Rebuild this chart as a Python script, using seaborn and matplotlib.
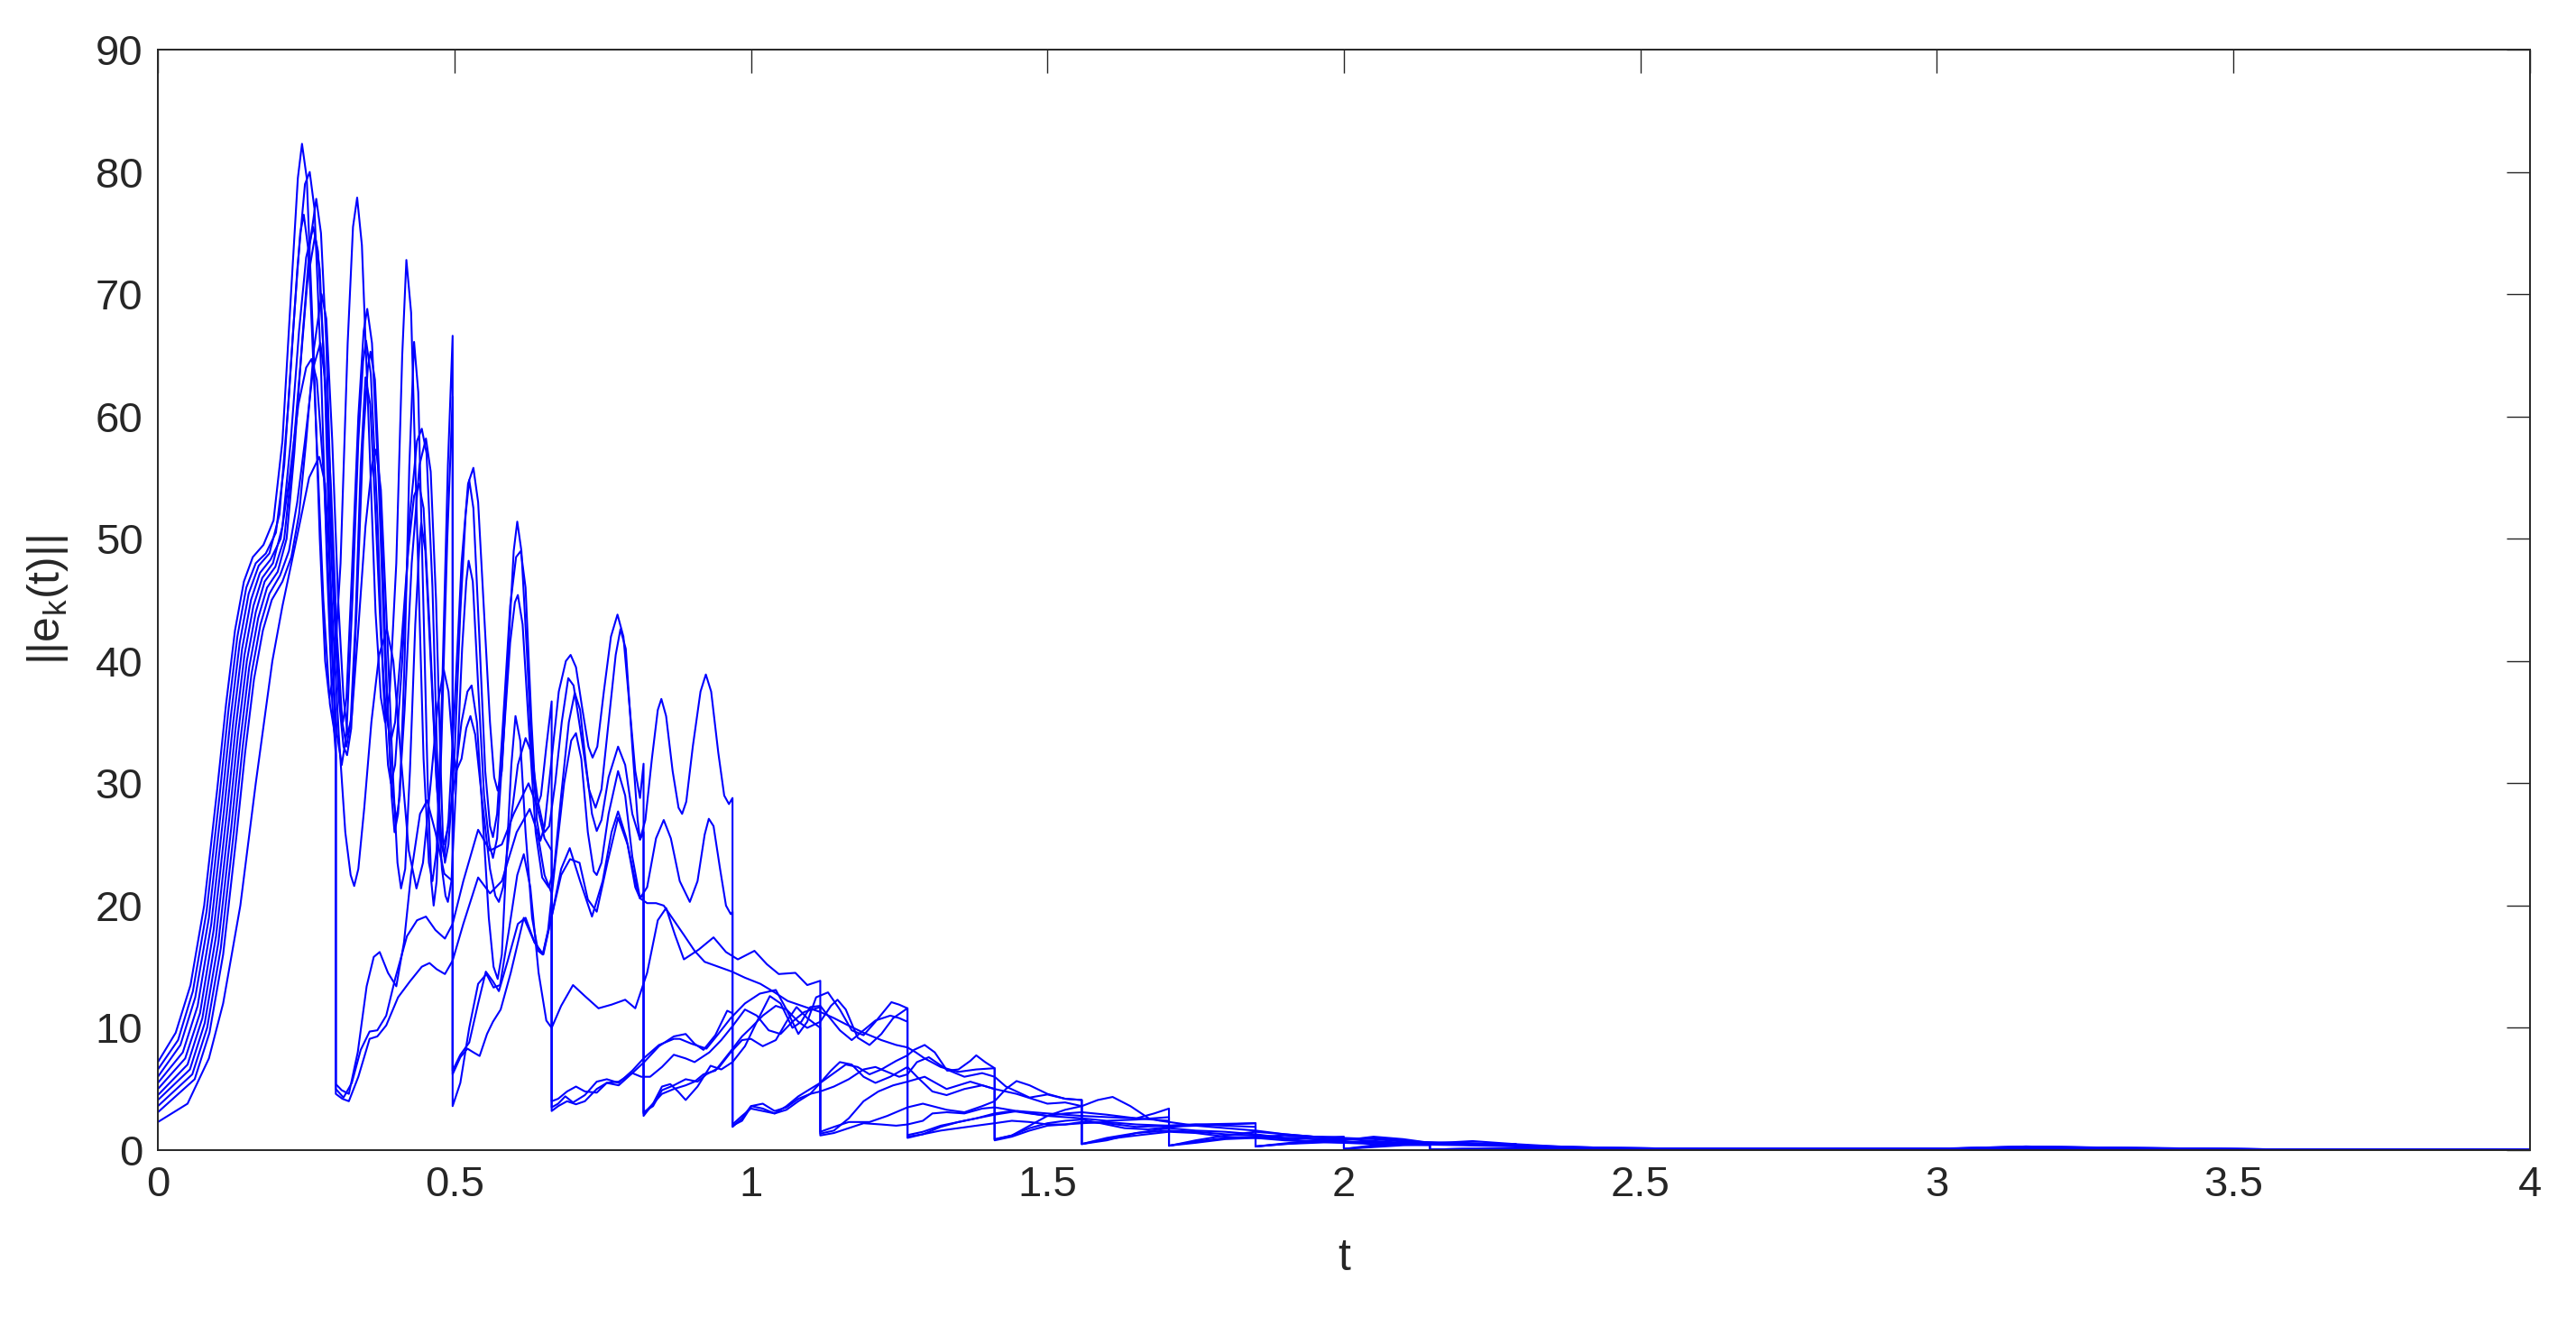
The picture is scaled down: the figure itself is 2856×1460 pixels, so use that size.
#!/usr/bin/env python3
"""
Norma del error ||e_k(t)|| para las 10 trayectorias con reinicios periódicos.
Valores leídos a ojo de la figura original (picos, valles y puntos intermedios).
"""

import matplotlib
matplotlib.use("Agg")  # sin pantalla
import matplotlib.pyplot as plt
import seaborn as sns
import pandas as pd

# ── Datos: (t, ||e_k(t)||) por trayectoria ─────────────────────────────────
traj_01 = [
    (0.000, 7.2), (0.030, 9.6), (0.055, 13.5), (0.078, 20.0), (0.100, 29.5), (0.115, 36.5), (0.130, 42.5),
    (0.145, 46.5), (0.160, 48.5), (0.178, 49.5), (0.195, 51.5),
    (0.210, 58.0), (0.225, 70.5), (0.236, 79.5), (0.243, 82.3), (0.251, 79.5), (0.262, 66.0), (0.273, 50.0),
    (0.282, 40.0), (0.289, 37.0),
    (0.297, 39.0), (0.308, 48.0), (0.320, 66.0), (0.329, 75.5), (0.336, 77.9), (0.344, 74.0), (0.355, 60.0),
    (0.367, 44.0), (0.376, 37.0), (0.383, 35.0),
    (0.391, 37.5), (0.402, 48.0), (0.412, 65.0), (0.419, 72.8), (0.427, 68.5), (0.437, 51.0), (0.448, 32.0),
    (0.457, 23.5), (0.463, 22.0),
    (0.470, 24.5), (0.479, 37.0), (0.489, 56.0), (0.497, 66.6),
    (0.497, 3.6), (0.510, 5.5), (0.525, 10.0), (0.540, 13.6), (0.554, 14.4), (0.566, 13.3), (0.577, 13.5),
    (0.592, 18.0), (0.606, 22.5), (0.617, 24.2), (0.628, 21.5), (0.642, 14.5), (0.655, 10.6), (0.664, 10.0),
    (0.680, 11.8), (0.700, 13.5), (0.720, 12.6), (0.743, 11.6), (0.765, 11.9), (0.788, 12.3), (0.805, 11.6),
    (0.825, 14.5), (0.843, 18.8), (0.857, 19.8), (0.872, 17.6), (0.887, 15.6), (0.912, 16.4), (0.937, 17.4),
    (0.958, 16.2),
    (0.978, 15.6), (1.006, 16.3), (1.027, 15.2), (1.047, 14.4), (1.075, 14.5), (1.095, 13.5), (1.117, 13.85),
    (1.117, 1.35), (1.140, 1.6), (1.165, 2.6), (1.190, 4.0), (1.215, 4.8), (1.240, 5.3), (1.264, 5.6),
    (1.293, 6.0), (1.330, 5.0), (1.370, 5.6), (1.411, 5.0), (1.448, 4.6), (1.500, 3.8), (1.530, 3.9), (1.558, 3.6),
    (1.558, 0.5), (1.600, 0.8), (1.650, 1.4), (1.705, 1.8), (1.750, 1.6), (1.800, 1.5), (1.851, 1.3),
    (1.900, 1.0), (1.950, 0.9), (2.000, 0.85),
    (2.000, 0.1), (2.050, 0.25), (2.100, 0.4), (2.145, 0.45), (2.200, 0.4), (2.290, 0.3), (2.360, 0.2),
    (2.435, 0.15), (2.600, 0.1), (2.800, 0.08), (3.000, 0.1), (3.150, 0.25), (3.300, 0.15), (3.600, 0.05),
    (4.000, 0.02),
]

traj_02 = [
    (0.000, 6.6), (0.034, 9.0), (0.059, 13.0), (0.082, 19.5), (0.104, 29.0), (0.119, 36.0), (0.134, 42.0),
    (0.149, 46.0), (0.165, 48.0), (0.182, 48.8), (0.199, 50.5),
    (0.213, 56.0), (0.228, 67.0), (0.240, 75.0), (0.246, 76.5), (0.254, 73.5), (0.266, 60.0), (0.279, 45.0),
    (0.290, 36.5), (0.300, 33.5),
    (0.300, 5.4), (0.310, 4.9), (0.322, 4.6), (0.337, 8.0), (0.352, 13.4), (0.364, 15.8), (0.374, 16.2),
    (0.388, 14.5), (0.402, 13.4), (0.415, 17.0), (0.427, 22.6), (0.442, 27.5), (0.454, 28.6), (0.468, 26.0),
    (0.483, 22.6), (0.497, 22.0),
    (0.497, 6.5), (0.510, 7.8), (0.525, 8.8), (0.540, 12.0), (0.553, 14.6), (0.565, 13.8), (0.575, 13.0),
    (0.590, 15.5), (0.607, 18.5), (0.620, 19.0), (0.635, 17.0), (0.650, 16.0), (0.664, 19.1),
    (0.680, 22.5), (0.695, 23.8), (0.711, 23.5), (0.725, 20.5), (0.740, 19.5), (0.758, 23.5), (0.776, 27.2),
    (0.792, 25.0), (0.805, 21.5), (0.813, 20.6),
    (0.825, 20.2), (0.840, 20.2), (0.853, 20.0), (0.870, 18.8), (0.887, 17.6), (0.905, 16.3), (0.922, 15.4),
    (0.945, 15.0), (0.968, 14.6),
    (0.990, 14.1), (1.016, 13.6), (1.040, 12.9), (1.062, 12.2), (1.092, 11.7), (1.117, 11.3),
    (1.140, 10.8), (1.160, 10.3), (1.190, 9.6), (1.220, 9.0), (1.245, 8.6), (1.264, 8.4),
    (1.278, 8.0), (1.293, 7.5), (1.320, 6.8), (1.350, 6.4), (1.380, 6.6), (1.411, 6.7),
    (1.411, 0.86), (1.440, 1.2), (1.470, 2.0), (1.500, 2.8), (1.530, 3.3), (1.558, 3.6), (1.585, 4.1),
    (1.610, 4.35), (1.640, 3.6), (1.671, 2.6), (1.690, 2.4), (1.705, 2.3), (1.750, 2.0), (1.800, 2.1),
    (1.851, 2.2),
    (1.851, 0.3), (1.900, 0.5), (1.950, 0.7), (2.000, 0.8), (2.050, 1.1), (2.100, 0.9), (2.145, 0.6),
    (2.200, 0.5), (2.290, 0.45),
    (2.290, 0.05), (2.400, 0.08), (2.600, 0.05), (3.000, 0.08), (3.200, 0.2), (3.300, 0.1), (3.600, 0.05),
    (4.000, 0.02),
]

traj_03 = [
    (0.000, 6.0), (0.038, 8.6), (0.063, 12.5), (0.086, 19.0), (0.108, 28.5), (0.123, 35.5), (0.138, 41.5),
    (0.153, 45.5), (0.170, 47.8), (0.188, 48.8), (0.205, 52.0),
    (0.220, 61.0), (0.235, 72.0), (0.248, 79.0), (0.256, 80.0), (0.264, 77.0), (0.275, 64.0), (0.285, 48.0),
    (0.294, 36.5), (0.300, 32.3),
    (0.300, 5.0), (0.313, 4.3), (0.327, 5.5), (0.342, 8.2), (0.357, 9.7), (0.370, 9.8), (0.385, 11.0),
    (0.400, 14.0), (0.420, 17.5), (0.437, 18.8), (0.452, 19.1), (0.468, 18.0), (0.484, 17.3), (0.497, 18.5),
    (0.515, 22.0), (0.540, 26.2), (0.560, 24.5), (0.580, 25.0), (0.600, 27.5), (0.625, 30.0), (0.640, 28.0),
    (0.652, 25.5), (0.664, 24.5),
    (0.664, 3.5), (0.675, 3.8), (0.687, 4.4), (0.700, 3.9), (0.720, 4.5), (0.740, 5.6), (0.757, 5.8),
    (0.777, 5.5), (0.800, 6.5), (0.819, 7.5),
    (0.845, 8.6), (0.870, 9.1), (0.880, 9.1), (0.900, 8.7), (0.925, 8.3), (0.945, 9.5), (0.966, 10.8),
    (0.990, 12.0), (1.015, 12.8), (1.042, 13.1), (1.060, 11.5), (1.080, 9.5), (1.095, 10.5), (1.110, 12.5),
    (1.130, 12.9), (1.150, 11.5), (1.170, 9.8), (1.190, 9.4), (1.210, 10.5), (1.237, 12.1), (1.250, 11.9),
    (1.264, 11.6),
    (1.264, 1.23), (1.290, 1.5), (1.320, 2.0), (1.350, 2.3), (1.380, 2.6), (1.411, 3.0), (1.440, 3.2),
    (1.470, 3.0), (1.500, 2.8), (1.530, 3.0), (1.558, 3.1), (1.600, 2.9), (1.650, 2.6), (1.705, 2.4),
    (1.705, 0.37), (1.750, 0.6), (1.800, 0.9), (1.851, 1.0), (1.900, 0.8), (1.950, 0.7), (2.000, 0.6),
    (2.050, 0.7), (2.100, 0.5), (2.145, 0.45),
    (2.145, 0.05), (2.200, 0.1), (2.290, 0.15), (2.435, 0.1), (2.600, 0.08), (3.000, 0.1), (3.600, 0.05),
    (4.000, 0.02),
]

traj_04 = [
    (0.000, 5.5), (0.042, 8.0), (0.067, 11.8), (0.090, 18.5), (0.112, 28.0), (0.127, 35.0), (0.142, 41.0),
    (0.157, 45.0), (0.172, 47.2), (0.190, 48.3), (0.207, 50.0),
    (0.222, 55.0), (0.237, 61.0), (0.250, 64.0), (0.259, 64.7), (0.268, 63.0), (0.280, 55.0), (0.292, 42.0),
    (0.302, 34.0), (0.310, 31.5),
    (0.318, 34.0), (0.328, 45.0), (0.338, 58.0), (0.346, 64.5), (0.351, 66.2), (0.359, 63.5), (0.370, 52.0),
    (0.380, 38.0), (0.388, 31.5), (0.393, 30.0),
    (0.400, 31.5), (0.412, 40.0), (0.425, 52.0), (0.437, 58.0), (0.445, 59.0), (0.453, 57.0), (0.463, 46.0),
    (0.471, 32.0), (0.478, 25.0), (0.483, 24.0),
    (0.490, 27.0), (0.500, 36.0), (0.512, 48.0), (0.523, 54.5), (0.532, 55.8), (0.540, 53.0), (0.550, 44.0),
    (0.560, 35.0), (0.567, 30.5), (0.573, 29.4),
    (0.580, 31.0), (0.590, 40.0), (0.600, 49.0), (0.606, 51.4), (0.613, 49.0), (0.622, 41.0), (0.632, 31.0),
    (0.639, 28.0), (0.646, 29.0), (0.655, 33.0), (0.664, 36.7),
    (0.664, 3.2), (0.675, 3.6), (0.690, 4.0), (0.705, 3.75), (0.720, 4.0), (0.740, 5.0), (0.757, 5.5),
    (0.777, 5.3), (0.800, 6.3), (0.820, 7.2),
    (0.845, 8.5), (0.870, 9.3), (0.890, 9.5), (0.905, 8.7), (0.920, 8.2), (0.940, 9.4), (0.960, 11.4),
    (0.969, 11.2),
    (0.969, 1.9), (0.985, 2.6), (1.000, 3.6), (1.020, 3.8), (1.040, 3.2), (1.060, 3.5), (1.080, 4.2),
    (1.100, 4.6), (1.117, 4.8),
    (1.140, 5.2), (1.165, 5.8), (1.190, 6.6), (1.210, 6.8), (1.230, 6.4), (1.250, 6.0), (1.264, 6.2),
    (1.280, 7.2), (1.300, 7.6), (1.330, 6.6), (1.360, 6.0), (1.390, 6.3), (1.411, 6.0),
    (1.430, 5.2), (1.448, 4.8), (1.470, 4.3), (1.500, 4.55), (1.530, 4.2), (1.558, 4.1),
    (1.558, 0.5), (1.600, 0.9), (1.650, 1.2), (1.705, 1.5), (1.750, 1.4), (1.800, 1.1), (1.851, 1.0),
    (1.900, 1.0), (1.950, 1.05), (2.000, 1.1),
    (2.000, 0.1), (2.050, 0.3), (2.100, 0.5), (2.145, 0.55), (2.217, 0.74), (2.290, 0.49), (2.360, 0.3),
    (2.435, 0.2), (2.600, 0.1), (3.000, 0.1), (3.150, 0.3), (3.300, 0.2), (3.600, 0.05), (4.000, 0.02),
]

traj_05 = [
    (0.000, 5.0), (0.046, 7.5), (0.071, 11.2), (0.094, 18.0), (0.116, 27.5), (0.131, 34.5), (0.146, 40.5),
    (0.161, 44.5), (0.176, 46.8), (0.194, 48.0), (0.210, 51.0),
    (0.224, 58.0), (0.238, 67.0), (0.250, 73.0), (0.262, 75.5), (0.270, 73.5), (0.281, 64.0), (0.293, 48.0),
    (0.305, 37.0), (0.313, 33.0), (0.319, 32.3),
    (0.326, 34.5), (0.335, 44.0), (0.346, 58.0), (0.354, 64.0), (0.3585, 65.3), (0.366, 63.0), (0.376, 52.0),
    (0.386, 38.0), (0.394, 29.0), (0.399, 26.0),
    (0.405, 27.5), (0.416, 36.0), (0.428, 48.0), (0.441, 56.0), (0.452, 58.2), (0.460, 55.5), (0.469, 45.0),
    (0.477, 31.0), (0.481, 25.0), (0.484, 23.5),
    (0.490, 25.0), (0.500, 32.0), (0.510, 44.0), (0.519, 52.0), (0.525, 54.8), (0.532, 52.5), (0.542, 42.0),
    (0.552, 31.0), (0.560, 26.5), (0.565, 25.6),
    (0.572, 27.5), (0.582, 35.0), (0.594, 44.5), (0.604, 48.5), (0.612, 49.0), (0.620, 46.0), (0.630, 35.0),
    (0.639, 27.0), (0.645, 25.3),
    (0.652, 26.5), (0.664, 32.0), (0.676, 37.5), (0.688, 40.0), (0.696, 40.5), (0.705, 39.5), (0.716, 36.0),
    (0.726, 33.0), (0.733, 32.1),
    (0.741, 33.0), (0.752, 37.5), (0.764, 42.0), (0.775, 43.8), (0.785, 42.0), (0.795, 36.5), (0.805, 31.0),
    (0.813, 28.8), (0.819, 31.6),
    (0.819, 2.8), (0.835, 3.8), (0.850, 5.2), (0.864, 5.4), (0.877, 4.8), (0.890, 4.1), (0.910, 5.2),
    (0.932, 6.9), (0.950, 6.6), (0.969, 7.2),
    (0.990, 8.5), (1.010, 10.5), (1.032, 12.6), (1.050, 12.0), (1.070, 10.0), (1.085, 10.5), (1.100, 11.7),
    (1.117, 11.8),
    (1.130, 11.0), (1.150, 9.8), (1.170, 9.0), (1.190, 9.8), (1.210, 10.6), (1.235, 11.0), (1.250, 10.8),
    (1.264, 10.5),
    (1.264, 1.0), (1.290, 1.3), (1.320, 1.9), (1.350, 2.3), (1.380, 2.6), (1.411, 2.9), (1.450, 3.2),
    (1.500, 3.0), (1.558, 2.8), (1.600, 2.7), (1.650, 2.6), (1.680, 3.0), (1.705, 3.4),
    (1.705, 0.37), (1.750, 0.7), (1.800, 1.0), (1.851, 1.1), (1.900, 1.2), (1.950, 1.1), (2.000, 1.0),
    (2.050, 0.9), (2.100, 0.7), (2.145, 0.6), (2.200, 0.55), (2.290, 0.5),
    (2.290, 0.05), (2.400, 0.1), (2.600, 0.12), (2.800, 0.1), (3.000, 0.12), (3.200, 0.2), (3.400, 0.12),
    (3.600, 0.05), (4.000, 0.02),
]

traj_06 = [
    (0.000, 4.5), (0.050, 7.0), (0.075, 10.8), (0.098, 17.5), (0.120, 27.0), (0.135, 34.0), (0.150, 40.0),
    (0.165, 44.0), (0.180, 46.5), (0.198, 47.7), (0.213, 50.0),
    (0.226, 56.0), (0.240, 64.0), (0.252, 71.0), (0.265, 74.8), (0.273, 72.0), (0.282, 62.0), (0.290, 48.0),
    (0.296, 38.0), (0.300, 33.0),
    (0.300, 4.6), (0.311, 4.2), (0.322, 4.0), (0.338, 6.0), (0.357, 9.1), (0.370, 9.3), (0.385, 10.2),
    (0.405, 12.5), (0.425, 13.8), (0.445, 15.0), (0.458, 15.3), (0.470, 14.8), (0.484, 14.4), (0.497, 15.5),
    (0.515, 18.5), (0.540, 22.3), (0.560, 21.0), (0.580, 22.0), (0.605, 26.0), (0.627, 27.9), (0.640, 26.0),
    (0.652, 22.5), (0.664, 21.0),
    (0.664, 4.0), (0.675, 4.2), (0.690, 4.8), (0.705, 5.2), (0.720, 4.8), (0.740, 4.7), (0.757, 5.5),
    (0.777, 5.6), (0.800, 6.3), (0.815, 6.0),
    (0.830, 6.0), (0.850, 6.8), (0.870, 7.8), (0.890, 7.5), (0.905, 7.2), (0.930, 8.0), (0.950, 9.0),
    (0.970, 10.2), (0.990, 11.5), (1.010, 11.0), (1.030, 9.8), (1.050, 9.5), (1.070, 10.5), (1.090, 11.3),
    (1.117, 11.7),
    (1.117, 1.5), (1.140, 1.9), (1.165, 2.3), (1.200, 2.3), (1.230, 2.8), (1.264, 3.5), (1.290, 3.8),
    (1.306, 3.6), (1.330, 3.3), (1.360, 3.1), (1.390, 3.6), (1.411, 4.0),
    (1.430, 5.0), (1.448, 5.65), (1.470, 5.3), (1.500, 4.6), (1.530, 4.2), (1.558, 4.1),
    (1.558, 0.5), (1.600, 1.0), (1.650, 1.4), (1.705, 1.6), (1.750, 1.5), (1.800, 1.3), (1.851, 1.2),
    (1.900, 0.9), (1.950, 0.7), (2.000, 0.6), (2.050, 0.5), (2.100, 0.45), (2.145, 0.4),
    (2.145, 0.05), (2.200, 0.1), (2.290, 0.12), (2.435, 0.15), (2.600, 0.1), (3.000, 0.08), (3.600, 0.05),
    (4.000, 0.02),
]

traj_07 = [
    (0.000, 4.1), (0.054, 6.6), (0.079, 10.4), (0.102, 17.0), (0.124, 26.5), (0.139, 33.5), (0.154, 39.5),
    (0.169, 43.5), (0.184, 46.0), (0.202, 47.3), (0.217, 50.0),
    (0.230, 57.0), (0.243, 66.0), (0.256, 74.0), (0.267, 77.8), (0.275, 75.0), (0.284, 66.0), (0.293, 51.0),
    (0.301, 41.0), (0.307, 36.5), (0.312, 35.0),
    (0.318, 37.0), (0.327, 47.0), (0.338, 60.0), (0.347, 67.0), (0.353, 68.8), (0.361, 66.0), (0.372, 55.0),
    (0.383, 40.0), (0.394, 30.0), (0.402, 27.0),
    (0.408, 29.0), (0.416, 40.0), (0.424, 56.0), (0.432, 66.1), (0.439, 62.0), (0.447, 46.0), (0.455, 30.0),
    (0.461, 22.0), (0.465, 20.0),
    (0.470, 22.0), (0.478, 33.0), (0.488, 50.0), (0.497, 61.6),
    (0.497, 6.2), (0.510, 7.6), (0.522, 8.3), (0.532, 8.0), (0.5425, 7.7), (0.555, 9.5), (0.565, 10.5),
    (0.578, 11.5), (0.595, 14.5), (0.617, 19.0), (0.635, 17.0), (0.649, 16.0), (0.664, 19.1),
    (0.680, 23.0), (0.6945, 24.7), (0.712, 22.0), (0.732, 19.1), (0.750, 22.0), (0.765, 26.0), (0.776, 27.7),
    (0.790, 25.5), (0.805, 22.0), (0.813, 20.6), (0.819, 21.0),
    (0.819, 3.1), (0.835, 3.6), (0.850, 4.9), (0.870, 5.3), (0.890, 5.8), (0.910, 5.6), (0.925, 6.2),
    (0.945, 6.7), (0.966, 8.0),
    (0.985, 9.0), (1.000, 9.1), (1.020, 8.5), (1.042, 9.0), (1.060, 10.5), (1.077, 11.7), (1.095, 10.8),
    (1.117, 10.0),
    (1.117, 1.2), (1.140, 1.4), (1.165, 1.8), (1.190, 2.2), (1.220, 2.1), (1.245, 2.0), (1.264, 2.1),
    (1.290, 2.4), (1.306, 3.0), (1.330, 3.1), (1.360, 3.0), (1.390, 3.4), (1.411, 3.5), (1.448, 3.2),
    (1.500, 2.8), (1.558, 2.6), (1.600, 2.4), (1.650, 2.5), (1.705, 2.7),
    (1.705, 0.35), (1.750, 0.8), (1.800, 1.2), (1.851, 1.5), (1.900, 1.3), (1.950, 1.1), (2.000, 0.9),
    (2.050, 0.75), (2.100, 0.6), (2.145, 0.5),
    (2.145, 0.05), (2.200, 0.1), (2.290, 0.1), (2.435, 0.12), (2.600, 0.1), (3.000, 0.12), (3.150, 0.3),
    (3.300, 0.18), (3.600, 0.05), (4.000, 0.02),
]

traj_08 = [
    (0.000, 3.6), (0.058, 6.2), (0.083, 10.0), (0.106, 16.5), (0.128, 26.0), (0.143, 33.0), (0.158, 39.0),
    (0.173, 43.0), (0.188, 45.5), (0.206, 47.0), (0.221, 49.0),
    (0.235, 53.0), (0.248, 58.0), (0.262, 64.0), (0.274, 66.0), (0.282, 63.0), (0.292, 54.0), (0.302, 42.0),
    (0.311, 35.0), (0.318, 33.0),
    (0.325, 35.0), (0.333, 43.0), (0.342, 56.0), (0.350, 63.2), (0.358, 61.0), (0.367, 52.0), (0.376, 42.0),
    (0.385, 35.5), (0.393, 33.5),
    (0.400, 35.0), (0.410, 41.0), (0.422, 49.0), (0.432, 53.5), (0.440, 54.5), (0.448, 52.5), (0.458, 43.0),
    (0.469, 31.0), (0.479, 23.0), (0.485, 20.8), (0.489, 20.3),
    (0.495, 22.0), (0.503, 30.0), (0.513, 41.0), (0.520, 46.5), (0.524, 48.2), (0.531, 46.5), (0.540, 38.0),
    (0.550, 29.0), (0.559, 25.0), (0.565, 23.9),
    (0.572, 25.5), (0.582, 33.0), (0.594, 41.5), (0.602, 44.8), (0.607, 45.4), (0.615, 43.0), (0.625, 35.0),
    (0.637, 26.0), (0.648, 22.3), (0.659, 21.5),
    (0.668, 23.0), (0.680, 29.0), (0.693, 35.0), (0.703, 37.4), (0.712, 36.0), (0.722, 31.5), (0.732, 27.5),
    (0.740, 26.1),
    (0.748, 27.0), (0.760, 30.5), (0.776, 33.0), (0.788, 31.5), (0.800, 27.5), (0.813, 25.4),
    (0.822, 27.0), (0.833, 32.0), (0.843, 36.0), (0.849, 36.9), (0.857, 35.5), (0.868, 31.0), (0.878, 28.0),
    (0.884, 27.5),
    (0.891, 28.5), (0.902, 33.0), (0.915, 37.5), (0.924, 38.9), (0.933, 37.5), (0.945, 32.5), (0.955, 29.0),
    (0.963, 28.3), (0.969, 28.8),
    (0.969, 2.1), (0.985, 2.8), (1.000, 3.4), (1.020, 3.2), (1.040, 3.0), (1.060, 3.6), (1.080, 4.4),
    (1.100, 5.0), (1.117, 5.5),
    (1.140, 6.3), (1.160, 7.0), (1.180, 6.8), (1.200, 6.2), (1.220, 6.6), (1.245, 7.3), (1.264, 7.75),
    (1.275, 8.2), (1.293, 8.6), (1.310, 8.0), (1.331, 6.5), (1.350, 6.6), (1.370, 7.3), (1.380, 7.75),
    (1.395, 7.2), (1.411, 6.7),
    (1.411, 0.8), (1.440, 1.1), (1.470, 1.6), (1.500, 2.0), (1.530, 2.1), (1.558, 2.3), (1.600, 2.2),
    (1.650, 1.9), (1.705, 2.0), (1.750, 2.1), (1.800, 2.0), (1.851, 1.9),
    (1.851, 0.3), (1.900, 0.5), (1.950, 0.6), (2.000, 0.7), (2.050, 0.6), (2.100, 0.55), (2.145, 0.5),
    (2.200, 0.45), (2.290, 0.35), (2.360, 0.25), (2.435, 0.2), (2.600, 0.1), (3.000, 0.1), (3.600, 0.05),
    (4.000, 0.02),
]

traj_09 = [
    (0.000, 3.1), (0.062, 5.8), (0.087, 9.6), (0.110, 16.0), (0.132, 25.5), (0.147, 32.5), (0.162, 38.5),
    (0.177, 42.5), (0.192, 45.0), (0.210, 46.5), (0.225, 48.5),
    (0.238, 52.0), (0.250, 58.0), (0.263, 65.5), (0.276, 70.0), (0.284, 68.0), (0.294, 58.0), (0.304, 45.0),
    (0.313, 37.0), (0.320, 34.0),
    (0.327, 35.5), (0.337, 42.0), (0.350, 51.0), (0.361, 56.0), (0.368, 57.3), (0.376, 54.0), (0.386, 43.0),
    (0.396, 31.0), (0.404, 23.5), (0.410, 21.4),
    (0.417, 23.0), (0.425, 31.0), (0.434, 43.0), (0.441, 49.5), (0.444, 51.3), (0.451, 49.0), (0.460, 40.0),
    (0.470, 30.0), (0.477, 26.0), (0.482, 25.0),
    (0.490, 26.5), (0.500, 30.0), (0.512, 35.0), (0.522, 37.5), (0.529, 38.0), (0.538, 35.0), (0.548, 27.0),
    (0.558, 19.0), (0.566, 15.0), (0.573, 14.0),
    (0.580, 16.0), (0.588, 24.0), (0.596, 31.5), (0.603, 35.5), (0.611, 33.5), (0.620, 26.0), (0.631, 19.0),
    (0.641, 16.3), (0.649, 16.0),
    (0.658, 18.0), (0.670, 23.5), (0.685, 30.0), (0.697, 33.5), (0.705, 34.1), (0.714, 32.0), (0.725, 26.0),
    (0.735, 22.8), (0.740, 22.5),
    (0.748, 23.5), (0.760, 27.5), (0.776, 31.0), (0.788, 29.0), (0.800, 24.0), (0.813, 20.6),
    (0.825, 21.5), (0.840, 25.5), (0.853, 27.0), (0.865, 25.5), (0.880, 22.0), (0.897, 20.3),
    (0.910, 22.0), (0.922, 25.8), (0.929, 27.1), (0.937, 26.5), (0.948, 23.0), (0.958, 20.0), (0.966, 19.3),
    (0.969, 19.5),
    (0.969, 2.0), (0.985, 2.4), (1.001, 3.6), (1.020, 3.4), (1.040, 3.0), (1.060, 3.3), (1.080, 4.0),
    (1.100, 4.6), (1.117, 5.5),
    (1.135, 6.5), (1.150, 7.2), (1.170, 7.0), (1.190, 6.0), (1.210, 5.5), (1.235, 6.0), (1.264, 6.8),
    (1.280, 6.0), (1.306, 4.8), (1.330, 4.5), (1.360, 5.0), (1.390, 5.3), (1.411, 5.0),
    (1.411, 0.9), (1.440, 1.2), (1.470, 1.8), (1.500, 2.2), (1.530, 2.4), (1.558, 2.5), (1.590, 2.2),
    (1.630, 1.8), (1.670, 1.7), (1.705, 1.9), (1.750, 2.0), (1.800, 1.8), (1.851, 1.6), (1.900, 1.3),
    (1.950, 1.1), (2.000, 1.0),
    (2.000, 0.1), (2.050, 0.4), (2.100, 0.6), (2.145, 0.65), (2.200, 0.6), (2.290, 0.4), (2.360, 0.3),
    (2.435, 0.2), (2.600, 0.1), (3.000, 0.1), (3.200, 0.25), (3.400, 0.15), (3.600, 0.05), (4.000, 0.02),
]

traj_10 = [
    (0.000, 2.3), (0.050, 3.8), (0.086, 7.5), (0.110, 12.0), (0.139, 20.0), (0.165, 30.0), (0.193, 40.0),
    (0.210, 44.5), (0.236, 50.5), (0.255, 55.0), (0.272, 56.7),
    (0.282, 54.5), (0.293, 45.0), (0.305, 34.0), (0.316, 26.0), (0.325, 22.5), (0.331, 21.6),
    (0.338, 23.0), (0.348, 28.0), (0.360, 35.0), (0.373, 40.5), (0.386, 42.6), (0.397, 40.0), (0.410, 32.0),
    (0.423, 24.5), (0.436, 21.4),
    (0.447, 23.5), (0.460, 30.0), (0.472, 36.5), (0.482, 39.3), (0.490, 37.5), (0.497, 33.0), (0.503, 31.0),
    (0.512, 32.0), (0.520, 34.5), (0.527, 35.5),
    (0.535, 34.0), (0.547, 28.5), (0.560, 23.0), (0.569, 20.8), (0.575, 20.3), (0.582, 21.5), (0.594, 26.5),
    (0.607, 31.5), (0.620, 33.7), (0.630, 32.5), (0.641, 28.5), (0.652, 26.0),
    (0.660, 26.5), (0.670, 30.0), (0.681, 35.0), (0.692, 38.6), (0.701, 38.0), (0.712, 34.5), (0.727, 29.5),
    (0.738, 28.0), (0.748, 29.5), (0.760, 35.0), (0.772, 40.5), (0.780, 42.6), (0.789, 41.0), (0.800, 33.0),
    (0.809, 27.0), (0.813, 25.4), (0.819, 26.0),
    (0.819, 3.0), (0.835, 3.8), (0.850, 4.6), (0.870, 5.0), (0.890, 5.3), (0.905, 5.6), (0.920, 6.2),
    (0.940, 6.5), (0.966, 8.1),
    (0.985, 9.3), (1.000, 10.0), (1.020, 11.0), (1.042, 11.8), (1.060, 11.5), (1.080, 10.5), (1.095, 10.0),
    (1.117, 10.5),
    (1.135, 11.8), (1.146, 12.3), (1.160, 11.5), (1.180, 9.2), (1.200, 8.6), (1.220, 9.5), (1.240, 10.8),
    (1.264, 11.6),
    (1.264, 1.1), (1.290, 1.3), (1.320, 1.6), (1.350, 1.8), (1.380, 2.0), (1.411, 2.2), (1.440, 2.4),
    (1.470, 2.3), (1.500, 2.1), (1.530, 2.1), (1.558, 2.2), (1.600, 2.3), (1.650, 2.1), (1.705, 2.0),
    (1.750, 2.1), (1.800, 2.15), (1.851, 2.2),
    (1.851, 0.3), (1.900, 0.55), (1.950, 0.8), (2.000, 0.9), (2.050, 1.0), (2.100, 0.8), (2.145, 0.6),
    (2.200, 0.55), (2.290, 0.5),
    (2.290, 0.05), (2.400, 0.1), (2.600, 0.12), (2.800, 0.1), (3.000, 0.1), (3.150, 0.28), (3.300, 0.18),
    (3.600, 0.05), (4.000, 0.02),
]

TRAYECTORIAS = [traj_01, traj_02, traj_03, traj_04, traj_05,
                traj_06, traj_07, traj_08, traj_09, traj_10]

X_TICKS = [0, 0.5, 1, 1.5, 2, 2.5, 3, 3.5, 4]
X_LABELS = ["0", "0.5", "1", "1.5", "2", "2.5", "3", "3.5", "4"]
Y_TICKS = [0, 10, 20, 30, 40, 50, 60, 70, 80, 90]

GRIS = "#262626"

# ── Tabla larga para seaborn ───────────────────────────────────────────────
filas = []
for k, traj in enumerate(TRAYECTORIAS, start=1):
    for t, e in traj:
        filas.append((k, t, e))
df = pd.DataFrame(filas, columns=["k", "t", "e"])

sns.set_style("white")
plt.rcParams["font.family"] = ["Liberation Sans", "DejaVu Sans"]
plt.rcParams["mathtext.default"] = "regular"

fig = plt.figure(figsize=(28.56, 14.60), dpi=100)
ax = fig.add_axes([0.0613, 0.1267, 0.9208, 0.8356])

sns.lineplot(data=df, x="t", y="e", units="k", estimator=None, sort=False,
             color="#0000ff", linewidth=1.5, legend=False, ax=ax)

ax.set_xlim(0, 4)
ax.set_ylim(0, 90)
ax.set_xticks(X_TICKS)
ax.set_xticklabels(X_LABELS)
ax.set_yticks(Y_TICKS)
ax.tick_params(direction="in", length=19, width=1.0, top=True, right=True,
               labelsize=34, color=GRIS, labelcolor=GRIS, pad=12)
for lado in ax.spines.values():
    lado.set_color(GRIS)
    lado.set_linewidth(1.4)

ax.set_xlabel("t", fontsize=36, color=GRIS, labelpad=26)
ax.set_ylabel("||e$_k$(t)||", fontsize=36, color=GRIS, labelpad=20)

fig.savefig("out.png", dpi=100)
plt.close()
print("  [OK] Guardada: out.png")
